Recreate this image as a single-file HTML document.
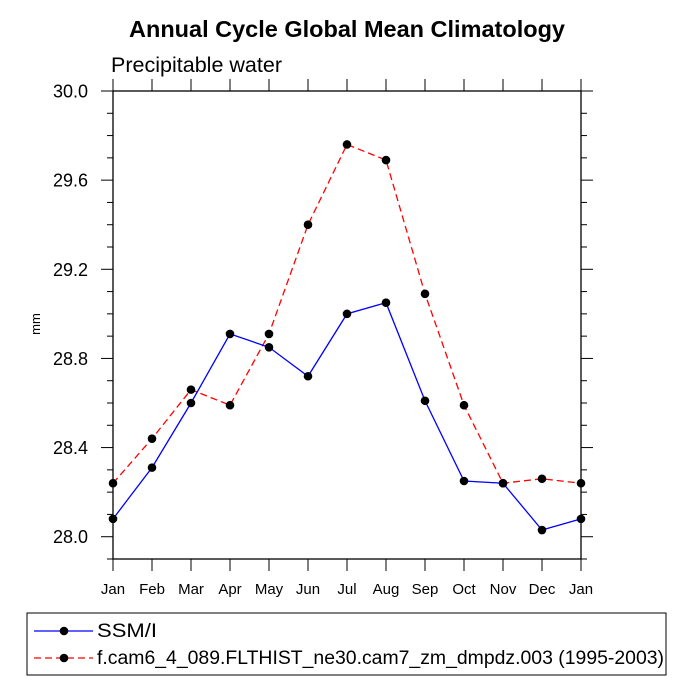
<!DOCTYPE html>
<html><head><meta charset="utf-8">
<style>
body{margin:0;background:#fff;font-family:"Liberation Sans",Arial,sans-serif;}
svg text{font-family:"Liberation Sans",Arial,sans-serif;}
</style></head>
<body>
<svg id="chart" width="694" height="694" viewBox="0 0 694 694">
<text x="129" y="37" font-size="23.5" font-weight="bold" textLength="436" lengthAdjust="spacingAndGlyphs">Annual Cycle Global Mean Climatology</text>
<text x="111" y="72" font-size="21" textLength="171" lengthAdjust="spacingAndGlyphs">Precipitable water</text>
<text transform="translate(40,324) rotate(-90)" text-anchor="middle" font-size="13">mm</text>
<g id="axes"></g>
<g id="series"></g>
<g>
<rect x="27" y="613" width="639" height="62" fill="none" stroke="#000" stroke-width="1"/>
<line x1="34" y1="631" x2="93" y2="631" stroke="#0000ff" stroke-width="1.3"/>
<circle cx="64" cy="631" r="4.3" fill="#000"/>
<text x="97" y="637" font-size="19" textLength="60" lengthAdjust="spacingAndGlyphs">SSM/I</text>
<line x1="34" y1="658" x2="93" y2="658" stroke="#ff0000" stroke-width="1.3" stroke-dasharray="7,4"/>
<circle cx="64" cy="658" r="4.3" fill="#000"/>
<text x="97" y="664" font-size="19" textLength="567" lengthAdjust="spacingAndGlyphs">f.cam6_4_089.FLTHIST_ne30.cam7_zm_dmpdz.003 (1995-2003)</text>
</g>
</svg>
<script>
const months=["Jan","Feb","Mar","Apr","May","Jun","Jul","Aug","Sep","Oct","Nov","Dec","Jan"];
const ssmi=[28.08,28.31,28.60,28.91,28.85,28.72,29.00,29.05,28.61,28.25,28.24,28.03,28.08];
const model=[28.24,28.44,28.66,28.59,28.91,29.40,29.76,29.69,29.09,28.59,28.24,28.26,28.24];
const yTicks=["28.0","28.4","28.8","29.2","29.6","30.0"];
const NS="http://www.w3.org/2000/svg";
const L=113,R=581,T=91,B=559,YMIN=27.9,YMAX=30.0;
const xs=i=>L+(R-L)*i/(months.length-1);
const ys=v=>B-(v-YMIN)/(YMAX-YMIN)*(B-T);
function mk(tag,at,parent){const e=document.createElementNS(NS,tag);for(const k in at)e.setAttribute(k,at[k]);parent.appendChild(e);return e;}
const ax=document.getElementById('axes');
const frame=mk('rect',{x:L,y:T,width:R-L,height:B-T,fill:'none',stroke:'#000','stroke-width':1.3},ax);


for(let v=Math.round(YMIN*10);v<=Math.round(YMAX*10);v++){
  const y=ys(v/10);const major=(v%4===0);const len=major?12:6;
  const t1=mk('line',{x1:L,y1:y,x2:L-len,y2:y,stroke:'#000'},ax);
  
  
  const t2=mk('line',{x1:R,y1:y,x2:R+len,y2:y,stroke:'#000'},ax);
  
  
}
yTicks.forEach(s=>{const t=mk('text',{x:88,y:ys(parseFloat(s))+6.5,'text-anchor':'end','font-size':18},ax);t.textContent=s;
  
  });
months.forEach((m,i)=>{const x=xs(i);
  const a=mk('line',{x1:x,y1:B,x2:x,y2:B+12,stroke:'#000'},ax);
  
  
  const b=mk('line',{x1:x,y1:T,x2:x,y2:T-12,stroke:'#000'},ax);
  
  
  const t=mk('text',{x:x,y:594,'text-anchor':'middle','font-size':15},ax);t.textContent=m;
  
  });
const sg=document.getElementById('series');
function draw(vals,color,dash,name){
  const p=mk('polyline',{points:vals.map((v,i)=>xs(i)+','+ys(v)).join(' '),fill:'none',stroke:color,'stroke-width':1.3},sg);
  if(dash)p.setAttribute('stroke-dasharray',dash);
  
  
  vals.forEach((v,i)=>{const c=mk('circle',{cx:xs(i),cy:ys(v),r:4.3,fill:'#000'},sg);
    
    });
}
draw(model,'#ff0000','7,4','model');
draw(ssmi,'#0000ff',null,'ssmi');
</script>
</body></html>
